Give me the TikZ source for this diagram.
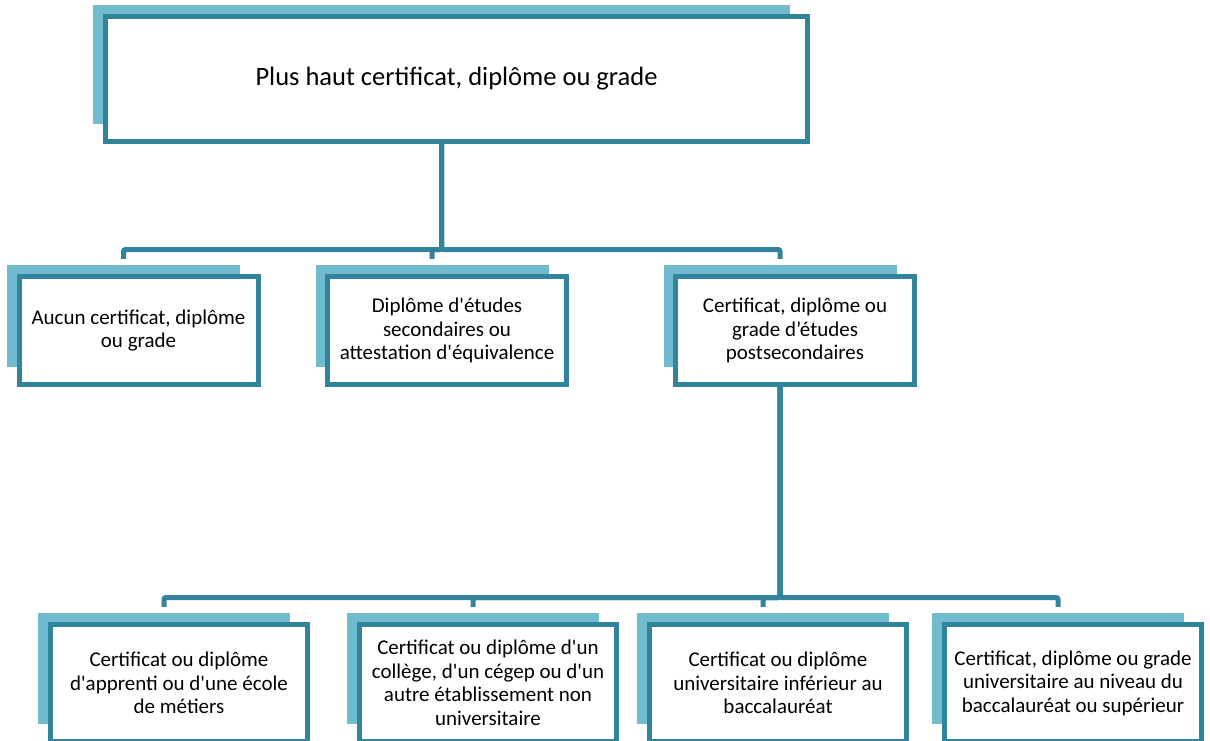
\documentclass[tikz,border=0pt]{standalone}
\usepackage{fontspec}
\setmainfont{Carlito}[Ligatures=TeXOff]
\usetikzlibrary{positioning}
\definecolor{sarcelle}{RGB}{49,132,155}
\definecolor{ciel}{RGB}{113,187,207}

\begin{document}
\begin{tikzpicture}[x=1pt,y=1pt,
  boite/.style={draw=sarcelle, line width=5pt, fill=white, align=center, inner sep=0pt},
  ombre/.style={fill=ciel, inner sep=0pt},
  lien/.style={draw=sarcelle, line width=5pt, rounded corners=2pt, shorten >=6pt},
  petit/.style={font=\fontsize{21}{23.5}\selectfont}]
\useasboundingbox (0,0) rectangle (1210,-740);
% Niveau 1 : boite du haut
\node[ombre, minimum width=697pt, minimum height=119pt] (hautbg) at (441.5,-64.5) {};
\node[boite, minimum width=702pt, minimum height=125pt, font=\fontsize{26.5}{30}\selectfont] (haut) at (456.5,-79) {Plus haut certificat, diplôme ou grade};
% Niveau 2
\begin{scope}[every node/.append style={minimum height=102pt, minimum width=233pt}]
\node[ombre] (aucunbg) at (123.5,-316) {};
\node[ombre] (secbg) at (432,-316) {};
\node[ombre] (postbg) at (780,-316) {};
\end{scope}
\begin{scope}[every node/.append style={boite, petit, minimum height=108pt, minimum width=239pt}]
\node (aucun) at (138.5,-330.5) {Aucun certificat, diplôme\\ou grade};
\node (sec) at (447,-330.5) {Diplôme d'études\\secondaires ou\\attestation d'équivalence};
\node (post) at (795,-330.5) {Certificat, diplôme ou\\grade d’études\\postsecondaires};
\end{scope}
\coordinate (barre1) at (0,-249.5);
\foreach \n in {aucunbg, secbg, postbg} {
    \draw[lien] (hautbg |- haut.south) -- (hautbg |- barre1) -| (\n.north);
}
% Niveau 3
\begin{scope}[every node/.append style={minimum height=111pt, minimum width=252pt}]
\node[ombre] (apprbg) at (164,-668.5) {};
\node[ombre] (collbg) at (473,-668.5) {};
\node[ombre] (infbg) at (763,-668.5) {};
\node[ombre] (univbg) at (1058,-668.5) {};
\end{scope}
\begin{scope}[every node/.append style={boite, petit, minimum height=117pt, minimum width=257pt}]
\node (appr) at (179,-683) {Certificat ou diplôme\\d'apprenti ou d'une école\\de métiers};
\node (coll) at (488,-683) {Certificat ou diplôme d'un\\collège, d'un cégep ou d'un\\autre établissement non\\universitaire};
\node (inf) at (778,-683) {Certificat ou diplôme\\universitaire inférieur au\\baccalauréat};
\node (univ) at (1073,-683) {Certificat, diplôme ou grade\\universitaire au niveau du\\baccalauréat ou supérieur};
\end{scope}
\coordinate (barre2) at (0,-597.5);
\foreach \n in {apprbg, collbg, infbg, univbg} {
    \draw[lien] (postbg |- post.south) -- (postbg |- barre2) -| (\n.north);
}
\end{tikzpicture}
\end{document}
